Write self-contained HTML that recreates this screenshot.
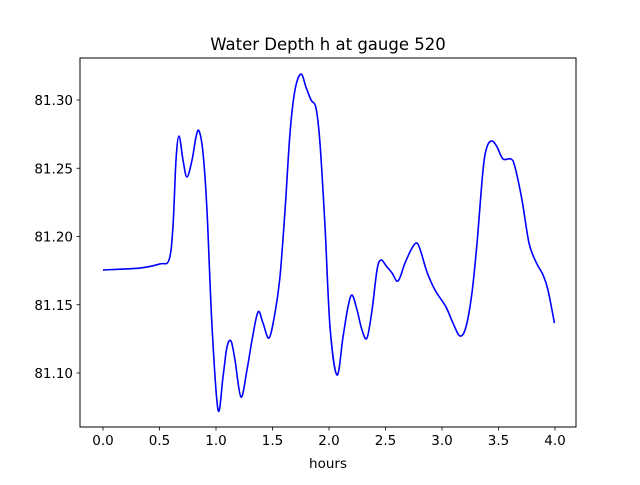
<!DOCTYPE html>
<html><head><meta charset="utf-8"><style>
body{margin:0;background:#fff}
svg text{font-family:"DejaVu Sans","Liberation Sans",sans-serif;fill:#000}
</style></head><body>
<svg width="640" height="480" xmlns="http://www.w3.org/2000/svg">
<rect width="640" height="480" fill="#fff"/>
<text x="328" y="50" font-size="16.5" text-anchor="middle">Water Depth h at gauge 520</text>
<g id="plot"></g>
<rect x="80" y="58" width="496" height="369" fill="none" stroke="#000" stroke-width="1"/>
<text x="328" y="468" font-size="13.5" text-anchor="middle">hours</text>
</svg>
<script>
const xTicks=[0,0.5,1,1.5,2,2.5,3,3.5,4];
const xTickLabels=["0.0","0.5","1.0","1.5","2.0","2.5","3.0","3.5","4.0"];
const yTicks=[81.10,81.15,81.20,81.25,81.30];
const yTickLabels=["81.10","81.15","81.20","81.25","81.30"];
const hours=[0,0.327,0.504,0.584,0.619,0.646,0.673,0.708,0.743,0.788,0.823,0.850,0.885,0.920,0.965,1.018,1.062,1.097,1.133,1.168,1.221,1.274,1.319,1.372,1.416,1.469,1.522,1.566,1.611,1.655,1.699,1.752,1.796,1.841,1.885,1.920,1.965,2.009,2.071,2.124,2.168,2.204,2.248,2.292,2.336,2.381,2.425,2.460,2.513,2.558,2.611,2.673,2.735,2.779,2.814,2.867,2.938,3.035,3.097,3.159,3.212,3.265,3.310,3.363,3.398,3.442,3.487,3.540,3.611,3.646,3.708,3.770,3.832,3.894,3.938,3.995];
const depth=[81.1755,81.1769,81.1799,81.1828,81.2070,81.2560,81.2736,81.2560,81.2436,81.2560,81.2729,81.2773,81.2612,81.2194,81.1337,81.0729,81.0971,81.1190,81.1234,81.1095,81.0824,81.1022,81.1242,81.1447,81.1366,81.1256,81.1440,81.1703,81.2194,81.2758,81.3073,81.3190,81.3095,81.3000,81.2941,81.2685,81.2070,81.1337,81.0985,81.1264,81.1484,81.1571,81.1462,81.1315,81.1256,81.1462,81.1755,81.1828,81.1777,81.1733,81.1674,81.1806,81.1916,81.1952,81.1886,81.1740,81.1608,81.1484,81.1366,81.1271,81.1337,81.1586,81.1952,81.2487,81.2656,81.2700,81.2656,81.2568,81.2568,81.2509,81.2267,81.1952,81.1813,81.1718,81.1608,81.1366];
const NS="http://www.w3.org/2000/svg";
const g=document.getElementById('plot');
const X=v=>103+v*113;
const Y=v=>100+(81.30-v)*1365;
function mk(t,a){const e=document.createElementNS(NS,t);for(const k in a)e.setAttribute(k,a[k]);g.appendChild(e);return e;}
xTicks.forEach((t,i)=>{
 const l=mk('line',{x1:X(t),x2:X(t),y1:427,y2:430.5,stroke:'#000','stroke-width':0.8});
 
 
 const tx=mk('text',{x:X(t),y:445,'font-size':13.5,'text-anchor':'middle'});
 tx.textContent=xTickLabels[i];
 
 
});
yTicks.forEach((t,i)=>{
 const l=mk('line',{x1:76.5,x2:80,y1:Y(t),y2:Y(t),stroke:'#000','stroke-width':0.8});
 
 
 const tx=mk('text',{x:73,y:Y(t)+5,'font-size':13.5,'text-anchor':'end'});
 tx.textContent=yTickLabels[i];
 
 
});
const pts=hours.map((h,i)=>[X(h),Y(depth[i])]);
let d='M'+pts[0][0]+','+pts[0][1];
for(let i=0;i<pts.length-1;i++){
 const p0=pts[Math.max(0,i-1)],p1=pts[i],p2=pts[i+1],p3=pts[Math.min(pts.length-1,i+2)];
 const c1=[p1[0]+(p2[0]-p0[0])/6,p1[1]+(p2[1]-p0[1])/6];
 const c2=[p2[0]-(p3[0]-p1[0])/6,p2[1]-(p3[1]-p1[1])/6];
 d+='C'+c1.join(',')+' '+c2.join(',')+' '+p2.join(',');
}
const line=mk('path',{d:d,fill:'none',stroke:'#0000ff','stroke-width':1.6,'stroke-linejoin':'round'});


</script>
</body></html>
